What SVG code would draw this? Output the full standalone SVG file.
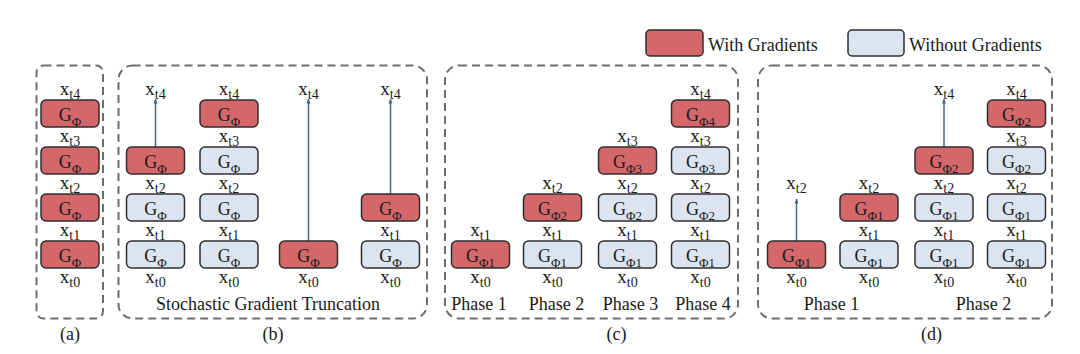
<svg xmlns="http://www.w3.org/2000/svg" width="1080" height="354" viewBox="0 0 1080 354">
<style>
  text { font-family: "Liberation Serif", "Times New Roman", serif; fill: #1a1a1a; }
  .lbl { font-size: 18px; text-anchor: middle; }
  .xl { font-size: 19px; text-anchor: middle; }
  .sub { font-size: 13px; }
  .xs { font-size: 14px; }
  .panel { fill: none; stroke: #6e6e6e; stroke-width: 2; stroke-dasharray: 8 5; }
  .red { fill: #d4676a; stroke: #2e2e2e; stroke-width: 1.5; }
  .blue { fill: #dce4f0; stroke: #2e2e2e; stroke-width: 1.5; }
  .arr { stroke: #41698c; stroke-width: 1.5; fill: none; marker-end: url(#ah); }
</style>
<defs>
  <marker id="ah" viewBox="0 0 10 10" refX="9" refY="5" markerWidth="6" markerHeight="5" markerUnits="userSpaceOnUse" orient="auto">
    <path d="M0,1 L10,5 L0,9 Z" fill="#41698c"/>
  </marker>
</defs>

<!-- Legend -->
<g id="legend">
  <rect class="red" x="646" y="30" width="57" height="26" rx="4"/>
  <text x="708" y="50.5" font-size="18">With Gradients</text>
  <rect class="blue" x="848" y="30" width="56" height="26" rx="4"/>
  <text x="909" y="50.5" font-size="18">Without Gradients</text>
</g>

<!-- Panels -->
<g id="panels">
  <rect class="panel" x="36.5" y="65.5" width="66.5" height="253" rx="7"/>
  <rect class="panel" x="118.5" y="65.5" width="308.5" height="253" rx="14"/>
  <rect class="panel" x="445" y="65.5" width="293" height="253" rx="14"/>
  <rect class="panel" x="758" y="65.5" width="294" height="253" rx="14"/>
</g>

<!-- Connectors -->
<g id="connectors">
  <line class="arr" x1="155.5" y1="147" x2="155.5" y2="99"/>
  <line class="arr" x1="308.5" y1="241" x2="308.5" y2="99"/>
  <line class="arr" x1="390.5" y1="194" x2="390.5" y2="99"/>
  <line class="arr" x1="796.5" y1="241" x2="796.5" y2="199"/>
  <line class="arr" x1="944" y1="147" x2="944" y2="99"/>
</g>

<!-- Panel (a) -->
<g id="a-n4"><rect class="red" x="41" y="100" width="58" height="27" rx="5"/><text class="lbl" x="70" y="121">G<tspan class="sub" dy="4.5">Φ</tspan></text></g>
<g id="a-n3"><rect class="red" x="41" y="147" width="58" height="27" rx="5"/><text class="lbl" x="70" y="168">G<tspan class="sub" dy="4.5">Φ</tspan></text></g>
<g id="a-n2"><rect class="red" x="41" y="194" width="58" height="27" rx="5"/><text class="lbl" x="70" y="215">G<tspan class="sub" dy="4.5">Φ</tspan></text></g>
<g id="a-n1"><rect class="red" x="41" y="241" width="58" height="27" rx="5"/><text class="lbl" x="70" y="262">G<tspan class="sub" dy="4.5">Φ</tspan></text></g>
<g id="a-labels">
  <text class="xl" x="70" y="94.5">x<tspan class="xs" dy="4">t4</tspan></text>
  <text class="xl" x="70" y="141.5">x<tspan class="xs" dy="4">t3</tspan></text>
  <text class="xl" x="70" y="188.5">x<tspan class="xs" dy="4">t2</tspan></text>
  <text class="xl" x="70" y="235.5">x<tspan class="xs" dy="4">t1</tspan></text>
  <text class="xl" x="70" y="282.5">x<tspan class="xs" dy="4">t0</tspan></text>
  <text class="lbl" x="70" y="340">(a)</text>
</g>

<!-- Panel (b) -->
<g id="b-c1-n1"><rect class="blue" x="126.5" y="241" width="58" height="27" rx="5"/><text class="lbl" x="155.5" y="262">G<tspan class="sub" dy="4.5">Φ</tspan></text></g>
<g id="b-c1-n2"><rect class="blue" x="126.5" y="194" width="58" height="27" rx="5"/><text class="lbl" x="155.5" y="215">G<tspan class="sub" dy="4.5">Φ</tspan></text></g>
<g id="b-c1-n3"><rect class="red" x="126.5" y="147" width="58" height="27" rx="5"/><text class="lbl" x="155.5" y="168">G<tspan class="sub" dy="4.5">Φ</tspan></text></g>

<g id="b-c2-n1"><rect class="blue" x="200" y="241" width="58" height="27" rx="5"/><text class="lbl" x="229" y="262">G<tspan class="sub" dy="4.5">Φ</tspan></text></g>
<g id="b-c2-n2"><rect class="blue" x="200" y="194" width="58" height="27" rx="5"/><text class="lbl" x="229" y="215">G<tspan class="sub" dy="4.5">Φ</tspan></text></g>
<g id="b-c2-n3"><rect class="blue" x="200" y="147" width="58" height="27" rx="5"/><text class="lbl" x="229" y="168">G<tspan class="sub" dy="4.5">Φ</tspan></text></g>
<g id="b-c2-n4"><rect class="red" x="200" y="100" width="58" height="27" rx="5"/><text class="lbl" x="229" y="121">G<tspan class="sub" dy="4.5">Φ</tspan></text></g>

<g id="b-c3-n1"><rect class="red" x="279.5" y="241" width="58" height="27" rx="5"/><text class="lbl" x="308.5" y="262">G<tspan class="sub" dy="4.5">Φ</tspan></text></g>

<g id="b-c4-n1"><rect class="blue" x="361.5" y="241" width="58" height="27" rx="5"/><text class="lbl" x="390.5" y="262">G<tspan class="sub" dy="4.5">Φ</tspan></text></g>
<g id="b-c4-n2"><rect class="red" x="361.5" y="194" width="58" height="27" rx="5"/><text class="lbl" x="390.5" y="215">G<tspan class="sub" dy="4.5">Φ</tspan></text></g>

<g id="b-labels">
  <text class="xl" x="155.5" y="94.5">x<tspan class="xs" dy="4">t4</tspan></text>
  <text class="xl" x="155.5" y="188.5">x<tspan class="xs" dy="4">t2</tspan></text>
  <text class="xl" x="155.5" y="235.5">x<tspan class="xs" dy="4">t1</tspan></text>
  <text class="xl" x="155.5" y="282.5">x<tspan class="xs" dy="4">t0</tspan></text>
  <text class="xl" x="229" y="94.5">x<tspan class="xs" dy="4">t4</tspan></text>
  <text class="xl" x="229" y="141.5">x<tspan class="xs" dy="4">t3</tspan></text>
  <text class="xl" x="229" y="188.5">x<tspan class="xs" dy="4">t2</tspan></text>
  <text class="xl" x="229" y="235.5">x<tspan class="xs" dy="4">t1</tspan></text>
  <text class="xl" x="229" y="282.5">x<tspan class="xs" dy="4">t0</tspan></text>
  <text class="xl" x="308.5" y="94.5">x<tspan class="xs" dy="4">t4</tspan></text>
  <text class="xl" x="308.5" y="282.5">x<tspan class="xs" dy="4">t0</tspan></text>
  <text class="xl" x="390.5" y="94.5">x<tspan class="xs" dy="4">t4</tspan></text>
  <text class="xl" x="390.5" y="235.5">x<tspan class="xs" dy="4">t1</tspan></text>
  <text class="xl" x="390.5" y="282.5">x<tspan class="xs" dy="4">t0</tspan></text>
  <text class="lbl" x="268" y="310">Stochastic Gradient Truncation</text>
  <text class="lbl" x="273" y="340">(b)</text>
</g>

<!-- Panel (c) -->
<g id="c-c1-n1"><rect class="red" x="451.5" y="241" width="58" height="27" rx="5"/><text class="lbl" x="480.5" y="262">G<tspan class="sub" dy="4.5">Φ1</tspan></text></g>

<g id="c-c2-n1"><rect class="blue" x="523.5" y="241" width="58" height="27" rx="5"/><text class="lbl" x="552.5" y="262">G<tspan class="sub" dy="4.5">Φ1</tspan></text></g>
<g id="c-c2-n2"><rect class="red" x="523.5" y="194" width="58" height="27" rx="5"/><text class="lbl" x="552.5" y="215">G<tspan class="sub" dy="4.5">Φ2</tspan></text></g>

<g id="c-c3-n1"><rect class="blue" x="598.5" y="241" width="58" height="27" rx="5"/><text class="lbl" x="627.5" y="262">G<tspan class="sub" dy="4.5">Φ1</tspan></text></g>
<g id="c-c3-n2"><rect class="blue" x="598.5" y="194" width="58" height="27" rx="5"/><text class="lbl" x="627.5" y="215">G<tspan class="sub" dy="4.5">Φ2</tspan></text></g>
<g id="c-c3-n3"><rect class="red" x="598.5" y="147" width="58" height="27" rx="5"/><text class="lbl" x="627.5" y="168">G<tspan class="sub" dy="4.5">Φ3</tspan></text></g>

<g id="c-c4-n1"><rect class="blue" x="671.5" y="241" width="58" height="27" rx="5"/><text class="lbl" x="700.5" y="262">G<tspan class="sub" dy="4.5">Φ1</tspan></text></g>
<g id="c-c4-n2"><rect class="blue" x="671.5" y="194" width="58" height="27" rx="5"/><text class="lbl" x="700.5" y="215">G<tspan class="sub" dy="4.5">Φ2</tspan></text></g>
<g id="c-c4-n3"><rect class="blue" x="671.5" y="147" width="58" height="27" rx="5"/><text class="lbl" x="700.5" y="168">G<tspan class="sub" dy="4.5">Φ3</tspan></text></g>
<g id="c-c4-n4"><rect class="red" x="671.5" y="100" width="58" height="27" rx="5"/><text class="lbl" x="700.5" y="121">G<tspan class="sub" dy="4.5">Φ4</tspan></text></g>

<g id="c-labels">
  <text class="xl" x="480.5" y="235.5">x<tspan class="xs" dy="4">t1</tspan></text>
  <text class="xl" x="480.5" y="282.5">x<tspan class="xs" dy="4">t0</tspan></text>
  <text class="xl" x="552.5" y="188.5">x<tspan class="xs" dy="4">t2</tspan></text>
  <text class="xl" x="552.5" y="235.5">x<tspan class="xs" dy="4">t1</tspan></text>
  <text class="xl" x="552.5" y="282.5">x<tspan class="xs" dy="4">t0</tspan></text>
  <text class="xl" x="627.5" y="141.5">x<tspan class="xs" dy="4">t3</tspan></text>
  <text class="xl" x="627.5" y="188.5">x<tspan class="xs" dy="4">t2</tspan></text>
  <text class="xl" x="627.5" y="235.5">x<tspan class="xs" dy="4">t1</tspan></text>
  <text class="xl" x="627.5" y="282.5">x<tspan class="xs" dy="4">t0</tspan></text>
  <text class="xl" x="700.5" y="94.5">x<tspan class="xs" dy="4">t4</tspan></text>
  <text class="xl" x="700.5" y="141.5">x<tspan class="xs" dy="4">t3</tspan></text>
  <text class="xl" x="700.5" y="188.5">x<tspan class="xs" dy="4">t2</tspan></text>
  <text class="xl" x="700.5" y="235.5">x<tspan class="xs" dy="4">t1</tspan></text>
  <text class="xl" x="700.5" y="282.5">x<tspan class="xs" dy="4">t0</tspan></text>
  <text class="lbl" x="479" y="309.5">Phase 1</text>
  <text class="lbl" x="556.5" y="309.5">Phase 2</text>
  <text class="lbl" x="630.5" y="309.5">Phase 3</text>
  <text class="lbl" x="703" y="309.5">Phase 4</text>
  <text class="lbl" x="616.5" y="340">(c)</text>
</g>

<!-- Panel (d) -->
<g id="d-c1-n1"><rect class="red" x="767.5" y="241" width="58" height="27" rx="5"/><text class="lbl" x="796.5" y="262">G<tspan class="sub" dy="4.5">Φ1</tspan></text></g>

<g id="d-c2-n1"><rect class="blue" x="840" y="241" width="58" height="27" rx="5"/><text class="lbl" x="869" y="262">G<tspan class="sub" dy="4.5">Φ1</tspan></text></g>
<g id="d-c2-n2"><rect class="red" x="840" y="194" width="58" height="27" rx="5"/><text class="lbl" x="869" y="215">G<tspan class="sub" dy="4.5">Φ1</tspan></text></g>

<g id="d-c3-n1"><rect class="blue" x="915" y="241" width="58" height="27" rx="5"/><text class="lbl" x="944" y="262">G<tspan class="sub" dy="4.5">Φ1</tspan></text></g>
<g id="d-c3-n2"><rect class="blue" x="915" y="194" width="58" height="27" rx="5"/><text class="lbl" x="944" y="215">G<tspan class="sub" dy="4.5">Φ1</tspan></text></g>
<g id="d-c3-n3"><rect class="red" x="915" y="147" width="58" height="27" rx="5"/><text class="lbl" x="944" y="168">G<tspan class="sub" dy="4.5">Φ2</tspan></text></g>

<g id="d-c4-n1"><rect class="blue" x="987.5" y="241" width="58" height="27" rx="5"/><text class="lbl" x="1016.5" y="262">G<tspan class="sub" dy="4.5">Φ1</tspan></text></g>
<g id="d-c4-n2"><rect class="blue" x="987.5" y="194" width="58" height="27" rx="5"/><text class="lbl" x="1016.5" y="215">G<tspan class="sub" dy="4.5">Φ1</tspan></text></g>
<g id="d-c4-n3"><rect class="blue" x="987.5" y="147" width="58" height="27" rx="5"/><text class="lbl" x="1016.5" y="168">G<tspan class="sub" dy="4.5">Φ2</tspan></text></g>
<g id="d-c4-n4"><rect class="red" x="987.5" y="100" width="58" height="27" rx="5"/><text class="lbl" x="1016.5" y="121">G<tspan class="sub" dy="4.5">Φ2</tspan></text></g>

<g id="d-labels">
  <text class="xl" x="796.5" y="188.5">x<tspan class="xs" dy="4">t2</tspan></text>
  <text class="xl" x="796.5" y="282.5">x<tspan class="xs" dy="4">t0</tspan></text>
  <text class="xl" x="869" y="188.5">x<tspan class="xs" dy="4">t2</tspan></text>
  <text class="xl" x="869" y="235.5">x<tspan class="xs" dy="4">t1</tspan></text>
  <text class="xl" x="869" y="282.5">x<tspan class="xs" dy="4">t0</tspan></text>
  <text class="xl" x="944" y="94.5">x<tspan class="xs" dy="4">t4</tspan></text>
  <text class="xl" x="944" y="188.5">x<tspan class="xs" dy="4">t2</tspan></text>
  <text class="xl" x="944" y="235.5">x<tspan class="xs" dy="4">t1</tspan></text>
  <text class="xl" x="944" y="282.5">x<tspan class="xs" dy="4">t0</tspan></text>
  <text class="xl" x="1016.5" y="94.5">x<tspan class="xs" dy="4">t4</tspan></text>
  <text class="xl" x="1016.5" y="141.5">x<tspan class="xs" dy="4">t3</tspan></text>
  <text class="xl" x="1016.5" y="188.5">x<tspan class="xs" dy="4">t2</tspan></text>
  <text class="xl" x="1016.5" y="235.5">x<tspan class="xs" dy="4">t1</tspan></text>
  <text class="xl" x="1016.5" y="282.5">x<tspan class="xs" dy="4">t0</tspan></text>
  <text class="lbl" x="831.5" y="309.5">Phase 1</text>
  <text class="lbl" x="983.5" y="309.5">Phase 2</text>
  <text class="lbl" x="931.5" y="340">(d)</text>
</g>
</svg>
